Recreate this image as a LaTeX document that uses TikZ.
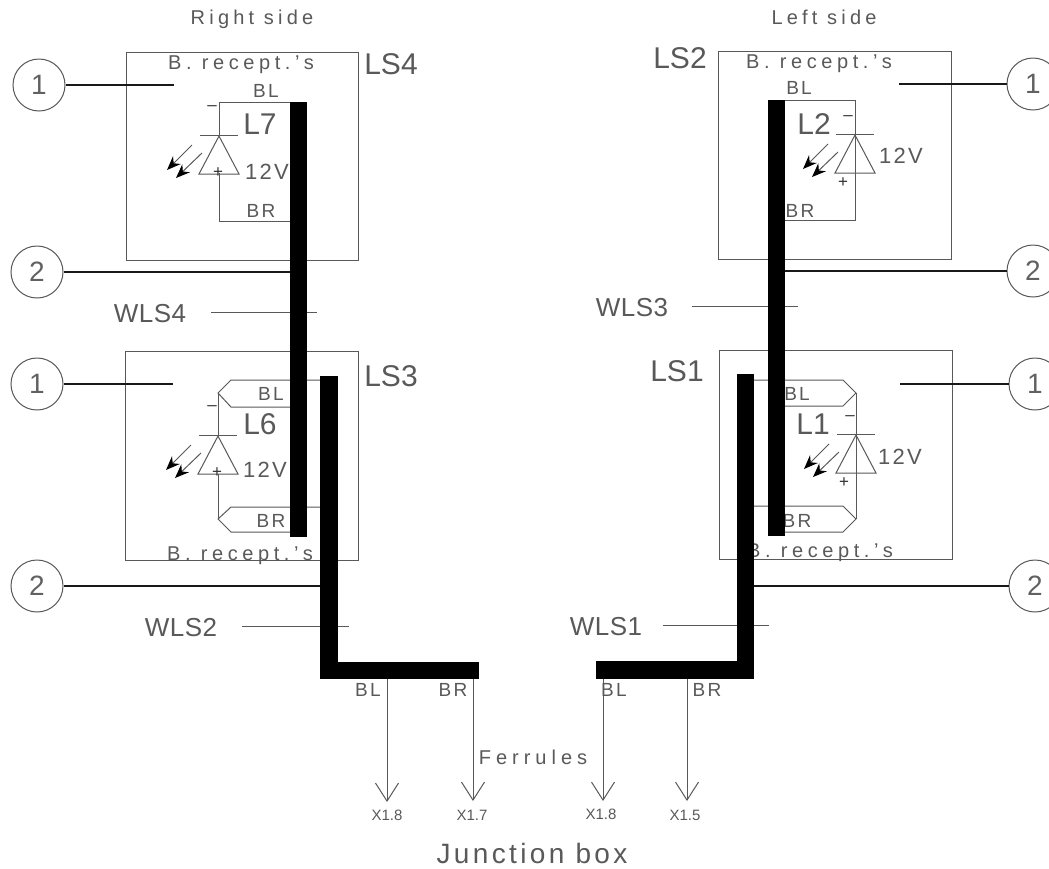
\documentclass[tikz,border=0pt]{standalone}
\usepackage{fontspec}
\setmainfont{Liberation Sans}
\usetikzlibrary{arrows.meta}
\newcommand\ct[3]{\fontsize{#1}{#1}\selectfont\addfontfeature{LetterSpace=#2}#3}
\tikzset{
  thin line/.style={draw=black!65,line width=1pt},
  lead/.style={draw=black!90,line width=1.5pt},
  bar/.style={draw=black,line width=17.5pt,line join=miter,line cap=butt},
  box/.style={rectangle,thin line,inner sep=0pt},
  num/.style={circle,thin line,minimum size=52pt,inner sep=0pt,text=black!62,font=\ct{28}{0}{}},
  lbl/.style={anchor=base,inner sep=0pt,text=black!65},
  big/.style={lbl,font=\ct{30}{0}{}},
  wls/.style={lbl,font=\ct{26}{2}{}},
  pin/.style={lbl,font=\ct{19}{12}{}},
  volt/.style={lbl,font=\ct{22}{10}{}},
  recept/.style={lbl,font=\ct{20}{23}{}},
  side/.style={lbl,font=\ct{20}{21}{}},
  ferr/.style={lbl,font=\ct{20}{25}{}},
  term/.style={lbl,font=\ct{15}{0}{}},
  sign/.style={anchor=center,inner sep=0pt,text=black!80,font=\ct{17}{0}{}},
  toX/.style={thin line,-{Straight Barb[length=18pt,width=23pt,line width=1pt]}},
  ledsym/.pic={
    \draw[thin line] (-19,-1) -- (19,-1);
    \draw[thin line] (0,0) -- (-20,38) -- (20,38) -- cycle;
    \draw[thin line,-{Stealth[length=14pt,width=11pt,black]}] (-27,9) -- (-52,34);
    \draw[thin line,-{Stealth[length=14pt,width=11pt,black]}] (-17,17) -- (-43,42);
  }
}
\begin{document}
\begin{tikzpicture}[x=1pt,y=-1pt]
\useasboundingbox (0,0) rectangle (1049,868);
\clip (0,0) rectangle (1049,868);
\fill[white] (0,0) rectangle (1049,868);

% headings
\node[side] (tR) at (252,24) {Right side};
\node[side] (tL) at (824,24) {Left side};

% housings
\node[box,minimum width=232pt,minimum height=208pt] (ls4) at (242,156) {};
\node[box,minimum width=233pt,minimum height=209pt] (ls3) at (241.5,455.5) {};
\node[box,minimum width=233pt,minimum height=208pt] (ls2) at (834.5,155) {};
\node[box,minimum width=233pt,minimum height=209pt] (ls1) at (835.5,454.5) {};

% coordinates: ends of wires
\coordinate (a4tl) at (219,102); \coordinate (a4tr) at (290,102);
\coordinate (a4bl) at (219,221); \coordinate (a4br) at (290,221);
\coordinate (a4a) at (219,136);  \coordinate (a4b) at (219,173);
\coordinate (a2tl) at (785,100); \coordinate (a2tr) at (855,100);
\coordinate (a2bl) at (785,220); \coordinate (a2br) at (855,220);

% LS4 inner wiring
\draw[thin line] (a4tr) -- (a4tl) -- (a4a);
\draw[thin line] (a4b) -- (a4bl) -- (a4br);
\pic at (a4a) {ledsym};
% LS2 inner wiring
\draw[thin line] (a2tl) -- (a2tr) -- (a2br) -- (a2bl);
\coordinate (a2a) at (855,135);
\pic at (a2a) {ledsym};

% LS3 inner wiring
\coordinate (n3t) at (218,393); \coordinate (n3b) at (218,519);
\coordinate (p3a) at (231,380); \coordinate (q3a) at (320,380);
\coordinate (p3b) at (231,407); \coordinate (q3b) at (290,407);
\coordinate (p3c) at (231,507); \coordinate (q3c) at (320,507);
\coordinate (p3d) at (231,532); \coordinate (q3d) at (290,532);
\coordinate (a3a) at (218,436); \coordinate (a3b) at (218,474);
\draw[thin line] (q3a) -- (p3a) -- (n3t) -- (p3b) -- (q3b);
\draw[thin line] (q3c) -- (p3c) -- (n3b) -- (p3d) -- (q3d);
\draw[thin line] (n3t) -- (a3a);
\draw[thin line] (a3b) -- (n3b);
\pic at (a3a) {ledsym};

% LS1 inner wiring
\coordinate (n1t) at (856,393); \coordinate (n1b) at (856,519);
\coordinate (p1a) at (843,380); \coordinate (q1a) at (754,380);
\coordinate (p1b) at (843,406); \coordinate (q1b) at (785,406);
\coordinate (p1c) at (843,506); \coordinate (q1c) at (754,506);
\coordinate (p1d) at (843,532); \coordinate (q1d) at (785,532);
\draw[thin line] (q1a) -- (p1a) -- (n1t) -- (p1b) -- (q1b);
\draw[thin line] (q1c) -- (p1c) -- (n1b) -- (p1d) -- (q1d);
\draw[thin line] (n1t) -- (n1b);
\coordinate (a1a) at (856,435);
\pic at (a1a) {ledsym};

% texts inside
\node[recept] (r4) at (241,69) {B. recept.'s};
\node[recept] (r3) at (240,560) {B. recept.'s};
\node[recept] (r2) at (819,68) {B. recept.'s};
\node[recept] (r1) at (820,557) {B. recept.'s};
\node[pin] (bl4) at (266,97) {BL};
\node[pin] (br4) at (261,217) {BR};
\node[pin] (bl3) at (271,400) {BL};
\node[pin] (br3) at (271,527) {BR};
\node[pin] (bl2) at (799,94) {BL};
\node[pin] (br2) at (800,217) {BR};
\node[pin] (bl1) at (797,400) {BL};
\node[pin] (br1) at (797,527) {BR};
\node[big] (l7) at (260,134) {L7};
\node[big] (l6) at (260,434) {L6};
\node[big] (l2) at (814,134) {L2};
\node[big] (l1) at (813,434) {L1};
\node[volt] (v7) at (267,179) {12V};
\node[volt] (v6) at (265,477) {12V};
\node[volt] (v2) at (901,163) {12V};
\node[volt] (v1) at (900,464) {12V};
\node[sign] (m7) at (212,108) {–};
\node[sign] (m6) at (212,408) {–};
\node[sign] (m2) at (848,118) {–};
\node[sign] (m1) at (850,418) {–};
\node[sign] (s7) at (218,173) {+};
\node[sign] (s6) at (217,473) {+};
\node[sign] (s2) at (843,183) {+};
\node[sign] (s1) at (844,483) {+};

% housing labels
\node[big] (tls4) at (391,74) {LS4};
\node[big] (tls3) at (391,386) {LS3};
\node[big] (tls2) at (680,68) {LS2};
\node[big] (tls1) at (677,381) {LS1};

% cable labels and tags
\node[wls] (w4) at (150,322) {WLS4};
\node[wls] (w2) at (181,636) {WLS2};
\node[wls] (w3) at (632,316) {WLS3};
\node[wls] (w1) at (606,635) {WLS1};
\coordinate (w4a) at (211,312); \coordinate (w4b) at (317,312);
\coordinate (w2a) at (242,626); \coordinate (w2b) at (349,626);
\coordinate (w3a) at (692,306); \coordinate (w3b) at (798,306);
\coordinate (w1a) at (663,625); \coordinate (w1b) at (769,625);
\draw[thin line] (w4a) -- (w4b);
\draw[thin line] (w2a) -- (w2b);
\draw[thin line] (w3a) -- (w3b);
\draw[thin line] (w1a) -- (w1b);

% numbered circles and leaders
\node[num] (c4a) at (39,85) {1};
\node[num] (c4b) at (37,272) {2};
\node[num] (c3a) at (37,384) {1};
\node[num] (c3b) at (37,586) {2};
\node[num] (c2a) at (1033,84) {1};
\node[num] (c2b) at (1033,271) {2};
\node[num] (c1a) at (1035,384) {1};
\node[num] (c1b) at (1035,586) {2};
\coordinate (e4a) at (174,85);  \coordinate (e4b) at (290,272);
\coordinate (e3a) at (173,384); \coordinate (e3b) at (320,586);
\coordinate (e2a) at (899,84);  \coordinate (e2b) at (784,271);
\coordinate (e1a) at (900,384); \coordinate (e1b) at (753,586);
\draw[lead] (c4a) -- (e4a);
\draw[lead] (c4b) -- (e4b);
\draw[lead] (c3a) -- (e3a);
\draw[lead] (c3b) -- (e3b);
\draw[lead] (c2a) -- (e2a);
\draw[lead] (c2b) -- (e2b);
\draw[lead] (c1a) -- (e1a);
\draw[lead] (c1b) -- (e1b);

% thick cables
\coordinate (b4a) at (298.5,102); \coordinate (b4b) at (298.5,537);
\coordinate (b3a) at (776.5,100); \coordinate (b3b) at (776.5,536);
\coordinate (b2a) at (329,376); \coordinate (b2b) at (329,670.5); \coordinate (b2c) at (479,670.5);
\coordinate (b1a) at (745.5,374); \coordinate (b1b) at (745.5,670); \coordinate (b1c) at (596,670);
\draw[bar] (b4a) -- (b4b);
\draw[bar] (b3a) -- (b3b);
\draw[bar] (b2a) -- (b2b) -- (b2c);
\draw[bar] (b1a) -- (b1b) -- (b1c);

% ferrule leads
\coordinate (f1) at (387,679); \coordinate (g1) at (387,802);
\coordinate (f2) at (473,679); \coordinate (g2) at (473,801);
\coordinate (f3) at (603,679); \coordinate (g3) at (603,801);
\coordinate (f4) at (687,679); \coordinate (g4) at (687,801);
\draw[toX] (f1) -- (g1);
\draw[toX] (f2) -- (g2);
\draw[toX] (f3) -- (g3);
\draw[toX] (f4) -- (g4);
\node[pin] (fb1) at (368,696) {BL};
\node[pin] (fb2) at (453,696) {BR};
\node[pin] (fb3) at (614,696) {BL};
\node[pin] (fb4) at (707,696) {BR};
\node[ferr] (fer) at (533,764) {Ferrules};
\node[term] (x1) at (387,820) {X1.8};
\node[term] (x2) at (472,820) {X1.7};
\node[term] (x3) at (601,819) {X1.8};
\node[term] (x4) at (685,820) {X1.5};
\node[lbl,font=\ct{28}{12}{}] (jb) at (532,863) {Junction box};
\end{tikzpicture}
\end{document}
